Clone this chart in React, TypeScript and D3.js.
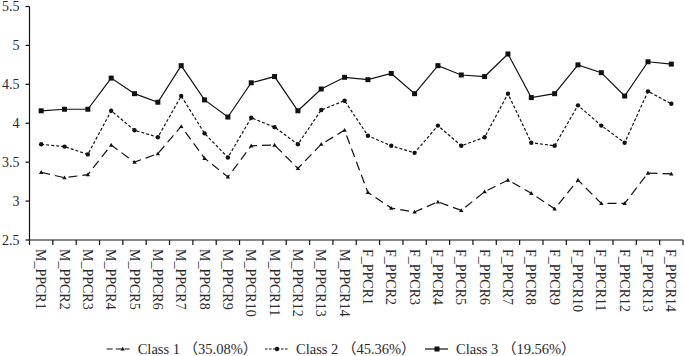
import React from "react";
import * as d3 from "d3";

const categories = [
  "M_PPCR1","M_PPCR2","M_PPCR3","M_PPCR4","M_PPCR5","M_PPCR6","M_PPCR7",
  "M_PPCR8","M_PPCR9","M_PPCR10","M_PPCR11","M_PPCR12","M_PPCR13","M_PPCR14",
  "F_PPCR1","F_PPCR2","F_PPCR3","F_PPCR4","F_PPCR5","F_PPCR6","F_PPCR7",
  "F_PPCR8","F_PPCR9","F_PPCR10","F_PPCR11","F_PPCR12","F_PPCR13","F_PPCR14",
];

const class1 = [3.37,3.30,3.34,3.72,3.50,3.61,3.96,3.55,3.31,3.71,3.72,3.42,3.73,3.91,
  3.11,2.91,2.86,2.99,2.88,3.12,3.27,3.10,2.90,3.27,2.97,2.97,3.36,3.35];
const class2 = [3.73,3.70,3.60,4.16,3.91,3.82,4.35,3.87,3.56,4.07,3.95,3.73,4.17,4.29,
  3.84,3.71,3.62,3.97,3.71,3.82,4.38,3.75,3.71,4.23,3.97,3.75,4.41,4.25];
const class3 = [4.16,4.18,4.18,4.58,4.38,4.27,4.74,4.30,4.08,4.52,4.60,4.16,4.44,4.59,
  4.56,4.64,4.38,4.74,4.62,4.60,4.89,4.33,4.38,4.75,4.65,4.35,4.79,4.76];

const seriesNames = ["Class 1", "Class 2", "Class 3"];
const seriesShares = ["35.08%", "45.36%", "19.56%"];
const yTicks = [2.5, 3, 3.5, 4, 4.5, 5, 5.5];

const W = 685, H = 356;
const X0 = 29.5, X1 = 683, YT = 6.5, YB = 240;
const FONT = '"Times New Roman", "Liberation Serif", "Noto Sans CJK SC", serif';
const INK = "#111";
const TXT = "#2a2a2a";

const styles = [
  { dash: "9,5", marker: "tri" },
  { dash: "3,2", marker: "dot" },
  { dash: "", marker: "sq" },
];

function Marker({ kind, x, y }: { kind: string; x: number; y: number }) {
  if (kind === "sq") return <rect x={x - 2.5} y={y - 2.5} width={5} height={5} fill={INK} />;
  if (kind === "dot") return <circle cx={x} cy={y} r={2.2} fill={INK} />;
  return <path d={`M${x - 2.2},${y + 1.6} L${x + 2.2},${y + 1.6} L${x},${y - 2.2} Z`} fill={INK} />;
}

export default function App() {
  const x = d3.scaleBand<string>().domain(categories).range([X0, X1]).padding(0);
  const y = d3.scaleLinear().domain([2.5, 5.5]).range([YB, YT]);
  const cx = (c: string) => (x(c) as number) + x.bandwidth() / 2;
  const data = [class1, class2, class3];
  const line = d3.line<number>().x((_, i) => cx(categories[i])).y((v) => y(v));

  const legendStarts = [106.7, 265, 425];
  const legendY = 349;

  return (
    <svg width={W} height={H} style={{ position: "absolute", left: 0, top: 0, background: "#fff" }}
      fontFamily={FONT}>
      <rect width={W} height={H} fill="#fff" />
      <line x1={X0} x2={X0} y1={YT} y2={YB} stroke={INK} strokeWidth={1.2} />
      <line x1={X0} x2={X1} y1={YB} y2={YB} stroke={INK} strokeWidth={1.2} />
      {yTicks.map((t) => (
        <g key={t}>
          <line x1={X0 - 4} x2={X0} y1={y(t)} y2={y(t)} stroke={INK} strokeWidth={1.2} />
          <text x={X0 - 10} y={y(t)} dy="0.35em" textAnchor="end" fontSize={14} fill={TXT}>{t}</text>
        </g>
      ))}
      {categories.map((c, i) => (
        <line key={"bt" + i} x1={x(c) as number} x2={x(c) as number} y1={YB} y2={YB + 5} stroke={INK} strokeWidth={1.2} />
      ))}
      <line x1={X1} x2={X1} y1={YB} y2={YB + 5} stroke={INK} strokeWidth={1.2} />
      {categories.map((c) => (
        <text key={"lb" + c} transform={`translate(${cx(c)},${YB + 9}) rotate(90)`} dy="0.35em"
          textAnchor="start" fontSize={14} fill={TXT}>{c}</text>
      ))}
      {data.map((vals, si) => (
        <g key={"s" + si}>
          <path d={line(vals) as string} fill="none" stroke={INK} strokeWidth={1.2}
            strokeDasharray={styles[si].dash || undefined} />
          {vals.map((v, i) => (
            <Marker key={i} kind={styles[si].marker} x={cx(categories[i])} y={y(v)} />
          ))}
        </g>
      ))}
      {seriesNames.map((n, si) => {
        const lx = legendStarts[si];
        return (
          <g key={"lg" + si}>
            <line x1={lx} x2={lx + 23} y1={legendY} y2={legendY} stroke={INK} strokeWidth={1.2}
              strokeDasharray={styles[si].dash ? (si === 0 ? "6,3" : "2.5,1.5") : undefined} />
            <Marker kind={styles[si].marker} x={lx + (si === 0 ? 16 : 12)} y={legendY} />
            <text x={lx + 31} y={legendY} dy="0.35em" fontSize={14.5} fill={TXT}>
              {n + " （" + seriesShares[si] + "）"}
            </text>
          </g>
        );
      })}
    </svg>
  );
}
